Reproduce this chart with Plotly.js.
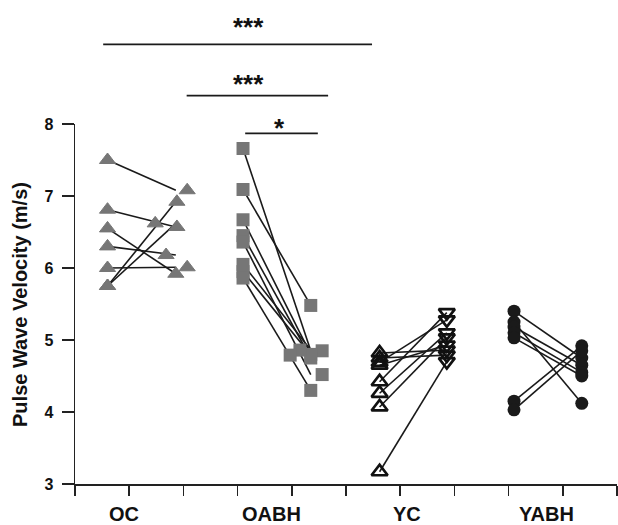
<!DOCTYPE html>
<html>
<head>
<meta charset="utf-8">
<script src="https://cdn.plot.ly/plotly-3.0.1.min.js"></script>
<style>html,body{margin:0;padding:0;background:#fff;}#chart{width:618px;height:525px;}</style>
</head>
<body>
<div id="chart"></div>
<script>
// ---- data ----
var groups = ["OC", "OABH", "YC", "YABH"];

var ocPre   = [7.50, 6.81, 6.55, 6.30, 6.00, 5.75, 5.75];
var ocPost  = [7.08, 6.57, 5.92, 6.18, 6.01, 6.92, 6.62];
var ocPostX = [2.07, 1.88, 1.86, 1.68, 2.07, 1.88, 1.48];

var oabhPre   = [7.66, 7.09, 6.67, 6.45, 6.36, 6.05, 5.95, 5.86];
var oabhPost  = [4.85, 5.48, 4.80, 4.75, 4.52, 4.86, 4.79, 4.30];
var oabhPostX = [4.56, 4.35, 4.35, 4.35, 4.56, 4.15, 3.97, 4.35];

var ycPre  = [4.82, 4.75, 4.69, 4.65, 4.42, 4.26, 4.07, 3.17];
var ycPost = [4.86, 4.79, 5.28, 4.93, 5.38, 5.10, 5.03, 4.70];

var yabhPre  = [5.40, 5.25, 5.18, 5.10, 5.03, 4.15, 4.03];
var yabhPost = [4.75, 4.12, 4.65, 4.55, 4.50, 4.92, 4.85];

var preX  = [0.60, 3.10, 5.62, 8.10];
var postX = [1.86, 4.35, 6.86, 9.35];
var labelX = [0.90, 3.62, 6.13, 8.69];

var sigLabels = ["***", "***", "*"];

// ---- helpers ----
function fill(v, n) { var a = []; for (var i = 0; i < n; i++) a.push(v); return a; }
function pairLines(pre, post, x0, x1) {
  var xs = [], ys = [];
  for (var i = 0; i < pre.length; i++) {
    xs.push(x0, x1, null); ys.push(pre[i], post[i], null);
  }
  return { x: xs, y: ys, type: "scatter", mode: "lines", hoverinfo: "skip",
           line: { color: "#1a1a1a", width: 1.6 }, showlegend: false };
}
function markers(x, y, symbol, color, size, lineColor, lineWidth) {
  return { x: x, y: y, type: "scatter", mode: "markers", showlegend: false,
           marker: { symbol: symbol, color: color, size: size,
                     line: { color: lineColor, width: lineWidth } } };
}

var gray = "#767676";
var traces = [
  pairLines(ocPre, ocPost, preX[0], postX[0]),
  pairLines(oabhPre, oabhPost, preX[1], postX[1]),
  pairLines(ycPre, ycPost, preX[2], postX[2]),
  pairLines(yabhPre, yabhPost, preX[3], postX[3]),
  markers(fill(preX[0], ocPre.length), ocPre, "triangle-up", gray, 14, gray, 1),
  markers(ocPostX, ocPost, "triangle-up", gray, 14, gray, 1),
  markers(fill(preX[1], oabhPre.length), oabhPre, "square", gray, 13, gray, 0),
  markers(oabhPostX, oabhPost, "square", gray, 13, gray, 0),
  markers(fill(preX[2], ycPre.length), ycPre, "triangle-up-open", "#111", 14, "#111", 2.7),
  markers(fill(postX[2], ycPost.length), ycPost, "triangle-down-open", "#111", 14, "#111", 2.7),
  markers(fill(preX[3], yabhPre.length), yabhPre, "circle", "#1a1a1a", 13, "#1a1a1a", 0),
  markers(fill(postX[3], yabhPost.length), yabhPost, "circle", "#1a1a1a", 13, "#1a1a1a", 0)
];

var font = "Liberation Sans, Arial, sans-serif";
var annotations = [];
for (var g = 0; g < groups.length; g++) {
  annotations.push({ x: labelX[g], y: -0.084, xref: "x", yref: "paper", text: "<b>" + groups[g] + "</b>",
    showarrow: false, xanchor: "center", yanchor: "middle", font: { family: font, size: 20, color: "#111" } });
}
annotations.push({ x: -0.1015, y: 0.5, xref: "paper", yref: "paper", text: "<b>Pulse Wave Velocity (m/s)</b>",
  textangle: -90, showarrow: false, xanchor: "center", yanchor: "middle", font: { family: font, size: 20, color: "#111" } });

var sigX = [3.197, 3.197, 3.78];
var sigY = [1.270, 1.110, 0.990];
for (var s = 0; s < sigLabels.length; s++) {
  annotations.push({ x: sigX[s], y: sigY[s], xref: "x", yref: "paper", text: "<b>" + sigLabels[s] + "</b>",
    showarrow: false, xanchor: "center", yanchor: "middle", font: { family: font, size: 26, color: "#111" } });
}

var barLine = { color: "#1a1a1a", width: 1.8 };
var shapes = [
  { type: "line", xref: "x", yref: "paper", x0: 0.52, x1: 5.48, y0: 1.2214, y1: 1.2214, line: barLine },
  { type: "line", xref: "x", yref: "paper", x0: 2.06, x1: 4.67, y0: 1.0786, y1: 1.0786, line: barLine },
  { type: "line", xref: "x", yref: "paper", x0: 3.14, x1: 4.48, y0: 0.974, y1: 0.974, line: barLine }
];

var layout = {
  width: 618, height: 525,
  margin: { l: 75, r: 1, t: 124, b: 41, pad: 0 },
  paper_bgcolor: "#fff", plot_bgcolor: "#fff",
  showlegend: false,
  xaxis: { range: [0, 10], tick0: 0, dtick: 1, ticks: "outside", ticklen: 10, tickwidth: 1.5, tickcolor: "#222",
           showline: true, linecolor: "#222", linewidth: 1.5, showgrid: false, zeroline: false, showticklabels: false,
           fixedrange: true },
  yaxis: { range: [3, 8], tick0: 3, dtick: 1, ticks: "outside", ticklen: 12, tickwidth: 1.5, tickcolor: "#222",
           showline: true, linecolor: "#222", linewidth: 1.5, showgrid: false, zeroline: false,
           tickfont: { family: font, size: 16, color: "#111", weight: "bold" }, ticklabelstandoff: 5,
           fixedrange: true },
  annotations: annotations,
  shapes: shapes
};

Plotly.newPlot("chart", traces, layout, { staticPlot: true, displayModeBar: false });
</script>
</body>
</html>
